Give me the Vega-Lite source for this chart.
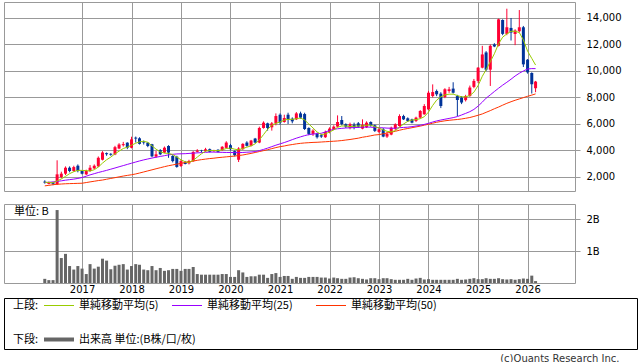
{
"$schema": "https://vega.github.io/schema/vega-lite/v6.json",
"padding": {"left": 3, "top": 1, "right": 0, "bottom": 0},
"bounds": "full",
"spacing": 2,
"config": {
  "view": {"stroke": "#999999", "strokeWidth": 1},
  "font": "DejaVu Sans",
  "axis": {"gridColor": "#999999", "gridWidth": 1, "gridOpacity": 1, "labelFont": "DejaVu Sans", "labelFontSize": 10, "labelColor": "#000000", "domain": false, "title": null, "labelOverlap": false}
},
"title": {"text": "(c)Quants Research Inc.", "orient": "bottom", "anchor": "end", "fontSize": 10, "fontWeight": "normal", "color": "#333333", "offset": 4, "dx": -18, "font": "DejaVu Sans"},
"datasets": {
"prices": [
{"date":"2016-04-01","open":1650,"high":1750,"low":1500,"close":1580,"ma5":1600,"ma25":1570,"ma50":1330,"volume":0.13},
{"date":"2016-05-01","open":1480,"high":1650,"low":1450,"close":1600,"ma5":1590,"ma25":1600,"ma50":1370,"volume":0.09},
{"date":"2016-06-01","open":1580,"high":1620,"low":1380,"close":1480,"ma5":1560,"ma25":1630,"ma50":1420,"volume":0.09},
{"date":"2016-07-01","open":1450,"high":3260,"low":1400,"close":2200,"ma5":1700,"ma25":1670,"ma50":1450,"volume":2.28},
{"date":"2016-08-01","open":2000,"high":2400,"low":1900,"close":2250,"ma5":1850,"ma25":1710,"ma50":1470,"volume":0.78},
{"date":"2016-09-01","open":2250,"high":2800,"low":2150,"close":2700,"ma5":2050,"ma25":1760,"ma50":1490,"volume":0.91},
{"date":"2016-10-01","open":2700,"high":2800,"low":2350,"close":2450,"ma5":2250,"ma25":1800,"ma50":1500,"volume":0.53},
{"date":"2016-11-01","open":2450,"high":2850,"low":2400,"close":2750,"ma5":2400,"ma25":1840,"ma50":1510,"volume":0.42},
{"date":"2016-12-01","open":2850,"high":2950,"low":2350,"close":2450,"ma5":2500,"ma25":1890,"ma50":1520,"volume":0.53},
{"date":"2017-01-01","open":2450,"high":2500,"low":2200,"close":2250,"ma5":2500,"ma25":1960,"ma50":1530,"volume":0.45},
{"date":"2017-02-01","open":2200,"high":2550,"low":2150,"close":2450,"ma5":2480,"ma25":2060,"ma50":1580,"volume":0.28},
{"date":"2017-03-01","open":2450,"high":2900,"low":2400,"close":2700,"ma5":2450,"ma25":2160,"ma50":1630,"volume":0.59},
{"date":"2017-04-01","open":2650,"high":2950,"low":2600,"close":2850,"ma5":2550,"ma25":2250,"ma50":1680,"volume":0.45},
{"date":"2017-05-01","open":2800,"high":3550,"low":2750,"close":3450,"ma5":2750,"ma25":2340,"ma50":1730,"volume":0.51},
{"date":"2017-06-01","open":3300,"high":3950,"low":3250,"close":3850,"ma5":3050,"ma25":2420,"ma50":1770,"volume":0.76},
{"date":"2017-07-01","open":3800,"high":3850,"low":3600,"close":3720,"ma5":3300,"ma25":2500,"ma50":1830,"volume":0.70},
{"date":"2017-08-01","open":3750,"high":3800,"low":3600,"close":3680,"ma5":3500,"ma25":2590,"ma50":1890,"volume":0.43},
{"date":"2017-09-01","open":3700,"high":4350,"low":3650,"close":4250,"ma5":3750,"ma25":2680,"ma50":1950,"volume":0.54},
{"date":"2017-10-01","open":4150,"high":4550,"low":4100,"close":4450,"ma5":3950,"ma25":2770,"ma50":2010,"volume":0.57},
{"date":"2017-11-01","open":4400,"high":4650,"low":4300,"close":4480,"ma5":4150,"ma25":2860,"ma50":2070,"volume":0.59},
{"date":"2017-12-01","open":4590,"high":4620,"low":4100,"close":4210,"ma5":4250,"ma25":2950,"ma50":2120,"volume":0.42},
{"date":"2018-01-01","open":4210,"high":5040,"low":4160,"close":4840,"ma5":4400,"ma25":3040,"ma50":2170,"volume":0.53},
{"date":"2018-02-01","open":4970,"high":5050,"low":4600,"close":4900,"ma5":4550,"ma25":3130,"ma50":2230,"volume":0.59},
{"date":"2018-03-01","open":4920,"high":5000,"low":4450,"close":4500,"ma5":4650,"ma25":3210,"ma50":2300,"volume":0.57},
{"date":"2018-04-01","open":4650,"high":4750,"low":4450,"close":4600,"ma5":4700,"ma25":3290,"ma50":2380,"volume":0.42},
{"date":"2018-05-01","open":4590,"high":4620,"low":4250,"close":4340,"ma5":4620,"ma25":3360,"ma50":2460,"volume":0.40},
{"date":"2018-06-01","open":4470,"high":4500,"low":3500,"close":3560,"ma5":4350,"ma25":3430,"ma50":2540,"volume":0.53},
{"date":"2018-07-01","open":3540,"high":3960,"low":3450,"close":3710,"ma5":4100,"ma25":3490,"ma50":2620,"volume":0.40},
{"date":"2018-08-01","open":4040,"high":4100,"low":3650,"close":3710,"ma5":3900,"ma25":3550,"ma50":2700,"volume":0.47},
{"date":"2018-09-01","open":3840,"high":4300,"low":3800,"close":4210,"ma5":3800,"ma25":3610,"ma50":2780,"volume":0.38},
{"date":"2018-10-01","open":4340,"high":4400,"low":3450,"close":3840,"ma5":3780,"ma25":3670,"ma50":2850,"volume":0.40},
{"date":"2018-11-01","open":3590,"high":3650,"low":3100,"close":3200,"ma5":3700,"ma25":3710,"ma50":2910,"volume":0.44},
{"date":"2018-12-01","open":3535,"high":3600,"low":2700,"close":2760,"ma5":3500,"ma25":3740,"ma50":2970,"volume":0.44},
{"date":"2019-01-01","open":2830,"high":3300,"low":2750,"close":3200,"ma5":3300,"ma25":3750,"ma50":3030,"volume":0.38},
{"date":"2019-02-01","open":3100,"high":3210,"low":2950,"close":2980,"ma5":3150,"ma25":3760,"ma50":3090,"volume":0.44},
{"date":"2019-03-01","open":3030,"high":3300,"low":2950,"close":3210,"ma5":3100,"ma25":3780,"ma50":3150,"volume":0.44},
{"date":"2019-04-01","open":3200,"high":3950,"low":3150,"close":3890,"ma5":3250,"ma25":3800,"ma50":3200,"volume":0.50},
{"date":"2019-05-01","open":3900,"high":4100,"low":3850,"close":4000,"ma5":3500,"ma25":3820,"ma50":3260,"volume":0.28},
{"date":"2019-06-01","open":3990,"high":4050,"low":3850,"close":3960,"ma5":3750,"ma25":3840,"ma50":3310,"volume":0.26},
{"date":"2019-07-01","open":3960,"high":4200,"low":3900,"close":4090,"ma5":3950,"ma25":3860,"ma50":3350,"volume":0.26},
{"date":"2019-08-01","open":4100,"high":4150,"low":3850,"close":3900,"ma5":4000,"ma25":3880,"ma50":3390,"volume":0.26},
{"date":"2019-09-01","open":3950,"high":4050,"low":3900,"close":3990,"ma5":4000,"ma25":3880,"ma50":3420,"volume":0.26},
{"date":"2019-10-01","open":4050,"high":4100,"low":3850,"close":3900,"ma5":3990,"ma25":3870,"ma50":3460,"volume":0.26},
{"date":"2019-11-01","open":4030,"high":4330,"low":3980,"close":4280,"ma5":4050,"ma25":3860,"ma50":3490,"volume":0.28},
{"date":"2019-12-01","open":4200,"high":4700,"low":4150,"close":4600,"ma5":4150,"ma25":3850,"ma50":3520,"volume":0.28},
{"date":"2020-01-01","open":4400,"high":4500,"low":4000,"close":4100,"ma5":4180,"ma25":3850,"ma50":3550,"volume":0.19},
{"date":"2020-02-01","open":3950,"high":4000,"low":3550,"close":3650,"ma5":4100,"ma25":3840,"ma50":3580,"volume":0.19},
{"date":"2020-03-01","open":3300,"high":4250,"low":3130,"close":4150,"ma5":4050,"ma25":3840,"ma50":3620,"volume":0.40},
{"date":"2020-04-01","open":4100,"high":4550,"low":4050,"close":4500,"ma5":4150,"ma25":3850,"ma50":3660,"volume":0.33},
{"date":"2020-05-01","open":4600,"high":4700,"low":4300,"close":4350,"ma5":4250,"ma25":3870,"ma50":3720,"volume":0.19},
{"date":"2020-06-01","open":4350,"high":4800,"low":4300,"close":4750,"ma5":4350,"ma25":3890,"ma50":3780,"volume":0.21},
{"date":"2020-07-01","open":4900,"high":4950,"low":4550,"close":4600,"ma5":4500,"ma25":3920,"ma50":3850,"volume":0.21},
{"date":"2020-08-01","open":4600,"high":5800,"low":4550,"close":5700,"ma5":4800,"ma25":3990,"ma50":3920,"volume":0.26},
{"date":"2020-09-01","open":5700,"high":6200,"low":5650,"close":6100,"ma5":5200,"ma25":4080,"ma50":3990,"volume":0.26},
{"date":"2020-10-01","open":6050,"high":6100,"low":5500,"close":5700,"ma5":5600,"ma25":4180,"ma50":4060,"volume":0.16},
{"date":"2020-11-01","open":5750,"high":6150,"low":5500,"close":6050,"ma5":5900,"ma25":4290,"ma50":4140,"volume":0.28},
{"date":"2020-12-01","open":6050,"high":6800,"low":5900,"close":6600,"ma5":6050,"ma25":4400,"ma50":4220,"volume":0.31},
{"date":"2021-01-01","open":6700,"high":6800,"low":5950,"close":6100,"ma5":6150,"ma25":4500,"ma50":4290,"volume":0.19},
{"date":"2021-02-01","open":6150,"high":6700,"low":6100,"close":6450,"ma5":6300,"ma25":4600,"ma50":4340,"volume":0.22},
{"date":"2021-03-01","open":6700,"high":6850,"low":6000,"close":6350,"ma5":6350,"ma25":4700,"ma50":4400,"volume":0.22},
{"date":"2021-04-01","open":6400,"high":6500,"low":6050,"close":6200,"ma5":6350,"ma25":4820,"ma50":4450,"volume":0.13},
{"date":"2021-05-01","open":6350,"high":6900,"low":6300,"close":6800,"ma5":6400,"ma25":4930,"ma50":4500,"volume":0.19},
{"date":"2021-06-01","open":6800,"high":6930,"low":6400,"close":6480,"ma5":6450,"ma25":5030,"ma50":4540,"volume":0.16},
{"date":"2021-07-01","open":6750,"high":6850,"low":5550,"close":5620,"ma5":6300,"ma25":5120,"ma50":4570,"volume":0.16},
{"date":"2021-08-01","open":5700,"high":5750,"low":5150,"close":5250,"ma5":6000,"ma25":5200,"ma50":4590,"volume":0.19},
{"date":"2021-09-01","open":5250,"high":5600,"low":5100,"close":5500,"ma5":5700,"ma25":5240,"ma50":4610,"volume":0.19},
{"date":"2021-10-01","open":5270,"high":5350,"low":4900,"close":5000,"ma5":5400,"ma25":5270,"ma50":4620,"volume":0.19},
{"date":"2021-11-01","open":5150,"high":5250,"low":4950,"close":5050,"ma5":5200,"ma25":5300,"ma50":4640,"volume":0.17},
{"date":"2021-12-01","open":5000,"high":5500,"low":4950,"close":5400,"ma5":5250,"ma25":5400,"ma50":4660,"volume":0.17},
{"date":"2022-01-01","open":5400,"high":5750,"low":5300,"close":5650,"ma5":5400,"ma25":5500,"ma50":4680,"volume":0.14},
{"date":"2022-02-01","open":5600,"high":5900,"low":5550,"close":5800,"ma5":5550,"ma25":5600,"ma50":4700,"volume":0.17},
{"date":"2022-03-01","open":5800,"high":6650,"low":5750,"close":6150,"ma5":5750,"ma25":5640,"ma50":4720,"volume":0.15},
{"date":"2022-04-01","open":6300,"high":6600,"low":5900,"close":6000,"ma5":5850,"ma25":5670,"ma50":4750,"volume":0.13},
{"date":"2022-05-01","open":5980,"high":6050,"low":5700,"close":5800,"ma5":5850,"ma25":5700,"ma50":4790,"volume":0.13},
{"date":"2022-06-01","open":5700,"high":6100,"low":5600,"close":5980,"ma5":5800,"ma25":5710,"ma50":4830,"volume":0.17},
{"date":"2022-07-01","open":5950,"high":6100,"low":5600,"close":5750,"ma5":5830,"ma25":5730,"ma50":4880,"volume":0.18},
{"date":"2022-08-01","open":6050,"high":6150,"low":5700,"close":5800,"ma5":5850,"ma25":5740,"ma50":4930,"volume":0.15},
{"date":"2022-09-01","open":5650,"high":6350,"low":5600,"close":5930,"ma5":5850,"ma25":5760,"ma50":5000,"volume":0.13},
{"date":"2022-10-01","open":5750,"high":6200,"low":5700,"close":6100,"ma5":5900,"ma25":5770,"ma50":5050,"volume":0.11},
{"date":"2022-11-01","open":6150,"high":6200,"low":5800,"close":5900,"ma5":5920,"ma25":5760,"ma50":5110,"volume":0.15},
{"date":"2022-12-01","open":5900,"high":5950,"low":5400,"close":5480,"ma5":5800,"ma25":5740,"ma50":5170,"volume":0.15},
{"date":"2023-01-01","open":5400,"high":5700,"low":5300,"close":5600,"ma5":5700,"ma25":5720,"ma50":5200,"volume":0.12},
{"date":"2023-02-01","open":5600,"high":5700,"low":5000,"close":5050,"ma5":5550,"ma25":5710,"ma50":5260,"volume":0.15},
{"date":"2023-03-01","open":5050,"high":5400,"low":4950,"close":5250,"ma5":5450,"ma25":5690,"ma50":5320,"volume":0.15},
{"date":"2023-04-01","open":5200,"high":5800,"low":5150,"close":5720,"ma5":5400,"ma25":5680,"ma50":5380,"volume":0.12},
{"date":"2023-05-01","open":5650,"high":6050,"low":5550,"close":5975,"ma5":5500,"ma25":5680,"ma50":5450,"volume":0.10},
{"date":"2023-06-01","open":5850,"high":6730,"low":5800,"close":6600,"ma5":5750,"ma25":5720,"ma50":5530,"volume":0.10},
{"date":"2023-07-01","open":6600,"high":6700,"low":6300,"close":6350,"ma5":6000,"ma25":5740,"ma50":5600,"volume":0.10},
{"date":"2023-08-01","open":6430,"high":6500,"low":6150,"close":6230,"ma5":6200,"ma25":5760,"ma50":5660,"volume":0.13},
{"date":"2023-09-01","open":6350,"high":6400,"low":6050,"close":6100,"ma5":6300,"ma25":5800,"ma50":5720,"volume":0.10},
{"date":"2023-10-01","open":6230,"high":6550,"low":6150,"close":6480,"ma5":6330,"ma25":5850,"ma50":5780,"volume":0.14},
{"date":"2023-11-01","open":6480,"high":7050,"low":6400,"close":6980,"ma5":6400,"ma25":5900,"ma50":5840,"volume":0.16},
{"date":"2023-12-01","open":6730,"high":7500,"low":6700,"close":7360,"ma5":6550,"ma25":5970,"ma50":5910,"volume":0.11},
{"date":"2024-01-01","open":7100,"high":8500,"low":7050,"close":8360,"ma5":6900,"ma25":6050,"ma50":5980,"volume":0.12},
{"date":"2024-02-01","open":8110,"high":8990,"low":8000,"close":8410,"ma5":7400,"ma25":6150,"ma50":6060,"volume":0.10},
{"date":"2024-03-01","open":8490,"high":8600,"low":8100,"close":8240,"ma5":7800,"ma25":6230,"ma50":6130,"volume":0.10},
{"date":"2024-04-01","open":8290,"high":8400,"low":7200,"close":7360,"ma5":8050,"ma25":6300,"ma50":6190,"volume":0.10},
{"date":"2024-05-01","open":8040,"high":8700,"low":7950,"close":8620,"ma5":8200,"ma25":6360,"ma50":6240,"volume":0.10},
{"date":"2024-06-01","open":8490,"high":8800,"low":8350,"close":8620,"ma5":8250,"ma25":6420,"ma50":6280,"volume":0.10},
{"date":"2024-07-01","open":8670,"high":9150,"low":8300,"close":8360,"ma5":8250,"ma25":6480,"ma50":6310,"volume":0.10},
{"date":"2024-08-01","open":8110,"high":8200,"low":6600,"close":7810,"ma5":8150,"ma25":6560,"ma50":6340,"volume":0.13},
{"date":"2024-09-01","open":7990,"high":8100,"low":7500,"close":7620,"ma5":8050,"ma25":6680,"ma50":6380,"volume":0.10},
{"date":"2024-10-01","open":7800,"high":8200,"low":7700,"close":8110,"ma5":8050,"ma25":6800,"ma50":6430,"volume":0.11},
{"date":"2024-11-01","open":8110,"high":8900,"low":8050,"close":8750,"ma5":8150,"ma25":6930,"ma50":6490,"volume":0.13},
{"date":"2024-12-01","open":8800,"high":9400,"low":8700,"close":9250,"ma5":8400,"ma25":7100,"ma50":6570,"volume":0.15},
{"date":"2025-01-01","open":9250,"high":10300,"low":9100,"close":10250,"ma5":8900,"ma25":7350,"ma50":6660,"volume":0.12},
{"date":"2025-02-01","open":10250,"high":11900,"low":10200,"close":11250,"ma5":9600,"ma25":7650,"ma50":6760,"volume":0.12},
{"date":"2025-03-01","open":11400,"high":11500,"low":10000,"close":10100,"ma5":10100,"ma25":7950,"ma50":6880,"volume":0.15},
{"date":"2025-04-01","open":10100,"high":12000,"low":8870,"close":11900,"ma5":10700,"ma25":8200,"ma50":7010,"volume":0.13},
{"date":"2025-05-01","open":12000,"high":12100,"low":11800,"close":11850,"ma5":11300,"ma25":8450,"ma50":7150,"volume":0.13},
{"date":"2025-06-01","open":11900,"high":13950,"low":11850,"close":13900,"ma5":12050,"ma25":8700,"ma50":7280,"volume":0.15},
{"date":"2025-07-01","open":13850,"high":13900,"low":12700,"close":12800,"ma5":12550,"ma25":8930,"ma50":7420,"volume":0.12},
{"date":"2025-08-01","open":12800,"high":14700,"low":12700,"close":13300,"ma5":12800,"ma25":9150,"ma50":7560,"volume":0.11},
{"date":"2025-09-01","open":13250,"high":14000,"low":12300,"close":12900,"ma5":13000,"ma25":9380,"ma50":7680,"volume":0.12},
{"date":"2025-10-01","open":12800,"high":13150,"low":11950,"close":13050,"ma5":13000,"ma25":9620,"ma50":7790,"volume":0.10},
{"date":"2025-11-01","open":13000,"high":14600,"low":12900,"close":13300,"ma5":12900,"ma25":9830,"ma50":7890,"volume":0.12},
{"date":"2025-12-01","open":13300,"high":13400,"low":10300,"close":10500,"ma5":12350,"ma25":10000,"ma50":7990,"volume":0.14},
{"date":"2026-01-01","open":10850,"high":10900,"low":9800,"close":9900,"ma5":11500,"ma25":10150,"ma50":8090,"volume":0.13},
{"date":"2026-02-01","open":9850,"high":9900,"low":8300,"close":9000,"ma5":10950,"ma25":10180,"ma50":8180,"volume":0.23},
{"date":"2026-03-01","open":8700,"high":9250,"low":8400,"close":9200,"ma5":10450,"ma25":10180,"ma50":8270,"volume":0.06}
],
"legend": [
{"row":"上段","item":"head","slot":-1,"label":"上段:"},
{"row":"上段","item":"ma5","slot":0,"label":"単純移動平均(5)"},
{"row":"上段","item":"ma25","slot":1,"label":"単純移動平均(25)"},
{"row":"上段","item":"ma50","slot":2,"label":"単純移動平均(50)"},
{"row":"下段","item":"head","slot":-1,"label":"下段:"},
{"row":"下段","item":"vol","slot":0,"label":"出来高 単位:(B株/口/枚)"}
]
},
"vconcat": [
{
  "width": 571, "height": 189,
  "data": {"name": "prices"},
  "encoding": {
    "x": {"field": "date", "type": "temporal",
      "scale": {"type": "utc", "domain": [{"year":2015,"month":7,"date":12,"utc":true},{"year":2026,"month":11,"date":10,"utc":true}]},
      "axis": {"values": [{"year":2017,"month":1,"date":1,"utc":true},{"year":2018,"month":1,"date":1,"utc":true},{"year":2019,"month":1,"date":1,"utc":true},{"year":2020,"month":1,"date":1,"utc":true},{"year":2021,"month":1,"date":1,"utc":true},{"year":2022,"month":1,"date":1,"utc":true},{"year":2023,"month":1,"date":1,"utc":true},{"year":2024,"month":1,"date":1,"utc":true},{"year":2025,"month":1,"date":1,"utc":true},{"year":2026,"month":1,"date":1,"utc":true}],
        "tickCount": 30, "labels": false, "ticks": true, "tickSize": 9, "tickOpacity": 0, "grid": true}}
  },
  "layer": [
    {"mark": {"type": "rule", "strokeWidth": 1},
     "encoding": {
       "y": {"field": "low", "type": "quantitative", "scale": {"domain": [943, 15207], "zero": false, "nice": false},
             "axis": {"orient": "right", "values": [2000,4000,6000,8000,10000,12000,14000], "tickCount": 30, "format": ",d", "tickSize": 5, "tickColor": "#999999", "labelPadding": 6, "grid": true}},
       "y2": {"field": "high"},
       "color": {"condition": {"test": "datum.close >= datum.open", "value": "#ff0033"}, "value": "#003399"}}},
    {"mark": {"type": "bar", "size": 3},
     "encoding": {
       "y": {"field": "open", "type": "quantitative"},
       "y2": {"field": "close"},
       "color": {"condition": {"test": "datum.close >= datum.open", "value": "#ff0033"}, "value": "#003399"}}},
    {"mark": {"type": "line", "strokeWidth": 1, "color": "#ff3300"}, "encoding": {"y": {"field": "ma50", "type": "quantitative"}}},
    {"mark": {"type": "line", "strokeWidth": 1, "color": "#9900ff"}, "encoding": {"y": {"field": "ma25", "type": "quantitative"}}},
    {"mark": {"type": "line", "strokeWidth": 1, "color": "#99cc00"}, "encoding": {"y": {"field": "ma5", "type": "quantitative"}}}
  ]
},
{
  "width": 571, "height": 79,
  "layer": [
    {"data": {"name": "prices"},
     "mark": {"type": "bar", "size": 3, "color": "#666666"},
     "encoding": {
       "x": {"field": "date", "type": "temporal",
         "scale": {"type": "utc", "domain": [{"year":2015,"month":7,"date":12,"utc":true},{"year":2026,"month":11,"date":10,"utc":true}]},
         "axis": {"values": [{"year":2017,"month":1,"date":1,"utc":true},{"year":2018,"month":1,"date":1,"utc":true},{"year":2019,"month":1,"date":1,"utc":true},{"year":2020,"month":1,"date":1,"utc":true},{"year":2021,"month":1,"date":1,"utc":true},{"year":2022,"month":1,"date":1,"utc":true},{"year":2023,"month":1,"date":1,"utc":true},{"year":2024,"month":1,"date":1,"utc":true},{"year":2025,"month":1,"date":1,"utc":true},{"year":2026,"month":1,"date":1,"utc":true}],
           "tickCount": 30, "format": "%Y", "formatType": "utc", "ticks": false, "labelPadding": 1, "grid": true}},
       "y": {"field": "volume", "type": "quantitative", "scale": {"domain": [0, 2.469], "nice": false},
         "axis": {"orient": "right", "values": [1, 2], "tickCount": 10, "labelExpr": "datum.value + 'B'", "tickSize": 5, "tickColor": "#999999", "labelPadding": 6, "grid": true}}}},
    {"data": {"values": [{"note": "単位: B"}]},
     "mark": {"type": "text", "align": "left", "baseline": "middle", "font": "Noto Sans CJK JP", "fontSize": 11, "color": "#000000"},
     "encoding": {
       "x": {"datum": {"year":2015,"month":8,"date":17,"utc":true}, "type": "temporal"},
       "y": {"datum": 2.22, "type": "quantitative"},
       "text": {"field": "note"}}}
  ]
},
{
  "width": 633, "height": 51,
  "view": {"stroke": "#000000", "strokeWidth": 1},
  "data": {"name": "legend"},
  "encoding": {
    "x": {"field": "slot", "type": "quantitative", "scale": {"domain": [-1, 0, 1, 2], "range": [-26, 40, 168, 312]}, "axis": null},
    "y": {"field": "row", "type": "nominal", "scale": {"type": "point", "domain": ["上段", "下段"], "range": [7.5, 41.5], "padding": 0}, "axis": null}
  },
  "layer": [
    {"transform": [{"filter": "datum.item == 'ma5'"}],
     "mark": {"type": "rule", "x2Offset": 30, "strokeWidth": 1, "color": "#99cc00"},
     "encoding": {"x2": {"field": "slot"}}},
    {"transform": [{"filter": "datum.item == 'ma25'"}],
     "mark": {"type": "rule", "x2Offset": 30, "strokeWidth": 1, "color": "#9900ff"},
     "encoding": {"x2": {"field": "slot"}}},
    {"transform": [{"filter": "datum.item == 'ma50'"}],
     "mark": {"type": "rule", "x2Offset": 30, "strokeWidth": 1, "color": "#ff3300"},
     "encoding": {"x2": {"field": "slot"}}},
    {"transform": [{"filter": "datum.item == 'vol'"}],
     "mark": {"type": "rule", "x2Offset": 30, "strokeWidth": 4, "color": "#666666"},
     "encoding": {"x2": {"field": "slot"}}},
    {"mark": {"type": "text", "align": "left", "baseline": "middle", "dx": 35, "font": "Noto Sans CJK JP", "fontSize": 11, "color": "#000000"},
     "encoding": {"text": {"field": "label"}}}
  ]
}
]
}
